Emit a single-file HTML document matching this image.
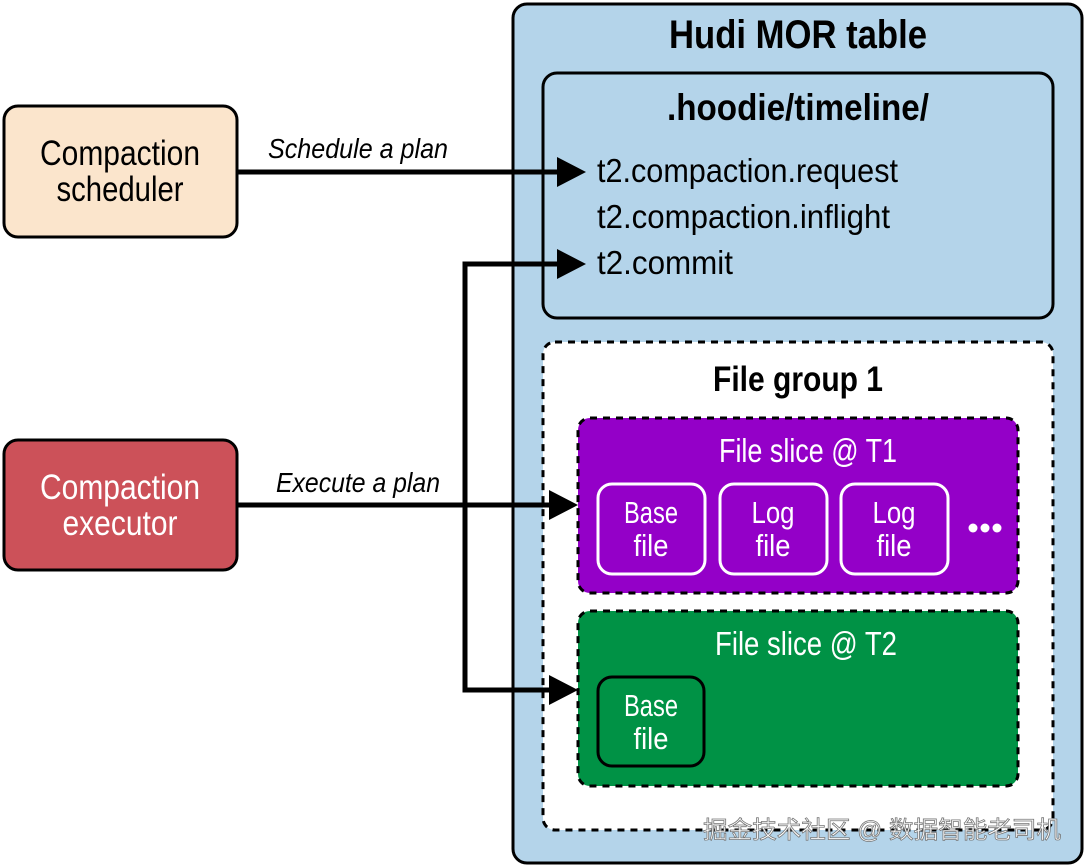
<!DOCTYPE html>
<html><head><meta charset="utf-8"><style>
html,body{margin:0;padding:0;background:#fff}
svg{display:block}
text{font-family:"Liberation Sans Narrow","Liberation Sans","DejaVu Sans Condensed",sans-serif}
</style></head><body>
<svg width="1086" height="868" viewBox="0 0 1086 868" xmlns="http://www.w3.org/2000/svg">
<rect x="513" y="4" width="569" height="859" rx="14" fill="#b4d4ea" stroke="#000" stroke-width="3"/>
<text x="798" y="48" text-anchor="middle" font-size="40" font-weight="bold" textLength="258" lengthAdjust="spacingAndGlyphs">Hudi MOR table</text>
<rect x="543" y="73" width="510" height="245" rx="14" fill="#b4d4ea" stroke="#000" stroke-width="3"/>
<text x="798" y="120" text-anchor="middle" font-size="37" font-weight="bold" textLength="262" lengthAdjust="spacingAndGlyphs">.hoodie/timeline/</text>
<text x="597" y="182" font-size="33" textLength="301" lengthAdjust="spacingAndGlyphs">t2.compaction.request</text>
<text x="597" y="228" font-size="33" textLength="293" lengthAdjust="spacingAndGlyphs">t2.compaction.inflight</text>
<text x="597" y="274" font-size="33" textLength="136" lengthAdjust="spacingAndGlyphs">t2.commit</text>
<rect x="543" y="342" width="510" height="488" rx="12" fill="#fff" stroke="#000" stroke-width="3" stroke-dasharray="7,6"/>
<text x="798" y="391" text-anchor="middle" font-size="35" font-weight="bold" textLength="170" lengthAdjust="spacingAndGlyphs">File group 1</text>
<rect x="578" y="418" width="440" height="175" rx="12" fill="#9400c8" stroke="#000" stroke-width="3" stroke-dasharray="7,6"/>
<text x="808" y="462" text-anchor="middle" font-size="33" fill="#fff" textLength="178" lengthAdjust="spacingAndGlyphs">File slice @ T1</text>
<g fill="none" stroke="#fff" stroke-width="3">
<rect x="598" y="484" width="107" height="90" rx="14"/>
<rect x="720" y="484" width="107" height="90" rx="14"/>
<rect x="841" y="484" width="107" height="90" rx="14"/>
</g>
<g fill="#fff" font-size="31" text-anchor="middle">
<text x="651" y="523" textLength="54" lengthAdjust="spacingAndGlyphs">Base</text><text x="651" y="556" textLength="35" lengthAdjust="spacingAndGlyphs">file</text>
<text x="773" y="523" textLength="43" lengthAdjust="spacingAndGlyphs">Log</text><text x="773" y="556" textLength="35" lengthAdjust="spacingAndGlyphs">file</text>
<text x="894" y="523" textLength="43" lengthAdjust="spacingAndGlyphs">Log</text><text x="894" y="556" textLength="35" lengthAdjust="spacingAndGlyphs">file</text>
<circle cx="973" cy="528" r="4.5"/><circle cx="985" cy="528" r="4.5"/><circle cx="997" cy="528" r="4.5"/>
</g>
<rect x="578" y="611" width="440" height="175" rx="12" fill="#009245" stroke="#000" stroke-width="3" stroke-dasharray="7,6"/>
<text x="806" y="655" text-anchor="middle" font-size="33" fill="#fff" textLength="182" lengthAdjust="spacingAndGlyphs">File slice @ T2</text>
<rect x="598" y="677" width="106" height="89" rx="14" fill="none" stroke="#000" stroke-width="3"/>
<text x="651" y="716" text-anchor="middle" font-size="31" fill="#fff" textLength="54" lengthAdjust="spacingAndGlyphs">Base</text>
<text x="651" y="749" text-anchor="middle" font-size="31" fill="#fff" textLength="35" lengthAdjust="spacingAndGlyphs">file</text>
<rect x="4" y="106" width="233" height="131" rx="14" fill="#fbe5cc" stroke="#000" stroke-width="3"/>
<text x="120" y="165" text-anchor="middle" font-size="35" textLength="160" lengthAdjust="spacingAndGlyphs">Compaction</text>
<text x="120" y="201" text-anchor="middle" font-size="35" textLength="127" lengthAdjust="spacingAndGlyphs">scheduler</text>
<rect x="4" y="440" width="233" height="130" rx="14" fill="#cc5159" stroke="#000" stroke-width="3"/>
<text x="120" y="499" text-anchor="middle" font-size="35" fill="#fff" textLength="160" lengthAdjust="spacingAndGlyphs">Compaction</text>
<text x="120" y="535" text-anchor="middle" font-size="35" fill="#fff" textLength="115" lengthAdjust="spacingAndGlyphs">executor</text>
<text x="268" y="158" font-size="28" font-style="italic" textLength="180" lengthAdjust="spacingAndGlyphs">Schedule a plan</text>
<text x="276" y="492" font-size="28" font-style="italic" textLength="164" lengthAdjust="spacingAndGlyphs">Execute a plan</text>
<g stroke="#000" stroke-width="5" fill="none">
<line x1="238" y1="172" x2="560" y2="172"/>
<line x1="238" y1="505" x2="552" y2="505"/>
<polyline points="560,264 465,264 465,690 552,690"/>
</g>
<g fill="#000">
<polygon points="557,157 586,172 557,187"/>
<polygon points="557,249 586,264 557,279"/>
<polygon points="549,490 578,505 549,520"/>
<polygon points="549,675 578,690 549,705"/>
</g>
<text x="703" y="838" font-size="24" fill="#fff" stroke="#777" stroke-width="0.8" textLength="358" lengthAdjust="spacingAndGlyphs" style="font-family:'Liberation Sans','Noto Sans CJK SC',sans-serif">掘金技术社区 @ 数据智能老司机</text>
</svg>
</body></html>
